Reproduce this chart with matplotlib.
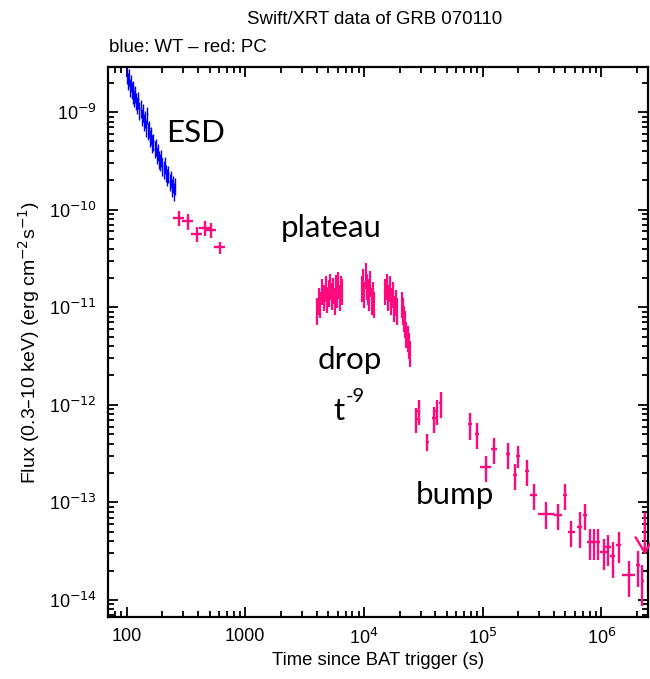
import numpy as np
import matplotlib
matplotlib.use("Agg")
import matplotlib.pyplot as plt
from matplotlib.ticker import NullFormatter, LogLocator

pink = "#ff0a7e"
blue = "#0000ff"

# ---- WT mode (blue)
wt_t = [100, 102, 104, 106, 108, 110, 112, 114, 116, 118, 120, 122, 125, 128, 131,
        134, 137, 140, 143, 146, 149, 152, 155, 158, 161, 164, 168, 172, 176, 180,
        184, 188, 192, 196, 200, 205, 210, 215, 220, 225, 230, 235, 240, 245, 250, 255]
wt_f = [2.4e-9, 2.1e-9, 2.3e-9, 1.8e-9, 2.0e-9, 1.7e-9, 1.5e-9, 1.75e-9, 1.4e-9, 1.55e-9,
        1.3e-9, 1.2e-9, 1.35e-9, 1.05e-9, 1.1e-9, 9.0e-10, 1.0e-9, 8.0e-10, 8.5e-10, 7.0e-10,
        9.5e-10, 6.5e-10, 6.8e-10, 5.5e-10, 5.8e-10, 4.8e-10, 5.0e-10, 4.2e-10, 4.4e-10, 3.7e-10,
        3.9e-10, 3.3e-10, 3.1e-10, 3.4e-10, 2.8e-10, 2.6e-10, 2.9e-10, 2.4e-10, 2.2e-10, 2.35e-10,
        1.95e-10, 2.1e-10, 1.7e-10, 1.85e-10, 1.55e-10, 1.75e-10]
wt_ferr = 0.2   # relative flux error
wt_terr = 0.01  # relative half bin

# ---- PC mode (pink), early
pc1_t = [276, 328, 391, 457, 513, 611]
pc1_f = [8.3e-11, 7.6e-11, 5.7e-11, 6.5e-11, 6.2e-11, 4.1e-11]
pc1_ferr = [0.18, 0.18, 0.18, 0.18, 0.18, 0.14]
pc1_terr = [0.11, 0.11, 0.11, 0.11, 0.11, 0.11]

# ---- plateau + drop
pl_t = [4000, 4150, 4300, 4450, 4600, 4750, 4900, 5050, 5200, 5350, 5500, 5650, 5800,
        5950, 6100, 6250, 6400, 6550,
        9600, 9850, 10100, 10350, 10600, 10850, 11100, 11350, 11600, 11850, 12100,
        15000, 15500, 16000, 16500, 17000, 17500, 18000, 18500, 19000,
        20800, 21300, 21800, 22300, 22800, 23300, 23800, 24300]
pl_f = [0.95e-11, 1.2e-11, 1.1e-11, 1.5e-11, 1.3e-11, 1.6e-11, 1.25e-11, 1.45e-11, 1.7e-11,
        1.35e-11, 1.55e-11, 1.2e-11, 1.65e-11, 1.4e-11, 1.75e-11, 1.3e-11, 1.6e-11, 1.5e-11,
        1.6e-11, 1.9e-11, 1.4e-11, 2.2e-11, 1.7e-11, 1.5e-11, 1.3e-11, 1.8e-11, 1.2e-11,
        1.4e-11, 1.1e-11,
        1.5e-11, 1.7e-11, 1.3e-11, 1.6e-11, 1.2e-11, 1.4e-11, 1.0e-11, 1.15e-11, 0.95e-11,
        1.1e-11, 0.95e-11, 0.8e-11, 0.7e-11, 0.55e-11, 0.5e-11, 0.42e-11, 0.35e-11]
pl_ferr = 0.3
pl_terr = 0.012

# ---- late PC points (bump and decay)
late_t = [27700, 29000, 34300, 39000, 40900, 44500, 78000, 89900, 106500, 125000,
          165300, 186700, 200600, 238800, 269800, 345000, 435500, 492000, 560500, 659000,
          730500, 800000, 869500, 939000, 1.056e6, 1.141e6, 1.256e6, 1.405e6, 1.715e6,
          2.04e6, 2.22e6]
late_f = [7.2e-13, 8.7e-13, 4.2e-13, 7.3e-13, 8.7e-13, 1.05e-12, 6.3e-13, 5.0e-13, 2.3e-13,
          3.56e-13, 3.16e-13, 1.9e-13, 3.0e-13, 2.1e-13, 1.19e-13, 7.7e-14, 7.4e-14, 1.19e-13,
          5.0e-14, 5.65e-14, 7.4e-14, 3.97e-14, 3.97e-14, 3.97e-14, 3.14e-14, 3.47e-14, 2.8e-14,
          3.66e-14, 1.79e-14, 2.26e-14, 1.57e-14]
late_ferr = [0.28, 0.28, 0.2, 0.3, 0.28, 0.3, 0.3, 0.3, 0.3, 0.3, 0.3, 0.3, 0.25, 0.3, 0.3,
             0.3, 0.3, 0.3, 0.3, 0.4, 0.3, 0.35, 0.35, 0.35, 0.35, 0.35, 0.4, 0.35, 0.4,
             0.4, 0.45]
late_terr = [0.03, 0.03, 0.03, 0.03, 0.03, 0.03, 0.04, 0.04, 0.1, 0.06, 0.04, 0.04, 0.04,
             0.04, 0.07, 0.15, 0.08, 0.04, 0.07, 0.05, 0.04, 0.06, 0.04, 0.04, 0.07, 0.05,
             0.05, 0.05, 0.12, 0.04, 0.03]

# upper limit
ul_t = 2.33e6
ul_f = 7.7e-14
ul_tip = 2.9e-14


def err(vals, rel):
    vals = np.asarray(vals, float)
    rel = np.asarray(rel, float)
    return vals * rel


fig = plt.figure(figsize=(6.5, 6.79), dpi=100)
ax = fig.add_axes([108/650, 1-617/679, 540/650, 550/679])

ax.errorbar(wt_t, wt_f, yerr=err(wt_f, wt_ferr), xerr=err(wt_t, wt_terr),
            fmt="none", ecolor=blue, elinewidth=1.0, capsize=0)
ax.errorbar(pc1_t, pc1_f, yerr=err(pc1_f, pc1_ferr), xerr=err(pc1_t, pc1_terr),
            fmt="none", ecolor=pink, elinewidth=1.7, capsize=0)
ax.errorbar(pl_t, pl_f, yerr=err(pl_f, pl_ferr), xerr=err(pl_t, pl_terr),
            fmt="none", ecolor=pink, elinewidth=1.6, capsize=0)
ax.errorbar(late_t, late_f, yerr=err(late_f, late_ferr), xerr=err(late_t, late_terr),
            fmt="none", ecolor=pink, elinewidth=1.7, capsize=0)
ax.annotate("", xy=(ul_t, ul_tip), xytext=(ul_t, ul_f),
            arrowprops=dict(arrowstyle="->,head_length=0.5,head_width=0.3",
                            color=pink, lw=1.7, mutation_scale=22,
                            shrinkA=0, shrinkB=0))

ax.set_xscale("log")
ax.set_yscale("log")
ax.set_xlim(69.6, 2.48e6)
ax.set_ylim(6.7e-15, 2.9e-9)

tf = ["Liberation Sans", "DejaVu Sans"]
ax.set_xticks([100, 1000, 1e4, 1e5, 1e6])
ax.set_xticklabels(["100", "1000", "10$^{4}$", "10$^{5}$", "10$^{6}$"])
ax.xaxis.set_minor_locator(LogLocator(base=10, subs=np.arange(2, 10)))
ax.xaxis.set_minor_formatter(NullFormatter())
ax.set_yticks([1e-14, 1e-13, 1e-12, 1e-11, 1e-10, 1e-9])
ax.set_yticklabels(["10$^{-14}$", "10$^{-13}$", "10$^{-12}$", "10$^{-11}$",
                    "10$^{-10}$", "10$^{-9}$"])
ax.yaxis.set_minor_locator(LogLocator(base=10, subs=np.arange(2, 10)))
ax.yaxis.set_minor_formatter(NullFormatter())
ax.tick_params(which="both", direction="in", top=True, right=True, width=1.3)
ax.tick_params(which="major", length=7, labelsize=13, pad=8)
ax.tick_params(which="minor", length=4)
for lab in ax.get_xticklabels() + ax.get_yticklabels():
    lab.set_family(tf)
for s in ax.spines.values():
    s.set_linewidth(1.6)

ax.set_xlabel("Time since BAT trigger (s)", fontsize=13.3, family=tf, labelpad=3)
ax.set_ylabel("Flux (0.3\u201310 keV) (erg cm$^{-2}$s$^{-1}$)", fontsize=14, family=tf, labelpad=5)

fig.text(375/650, 1-19/679, "Swift/XRT data of GRB 070110", ha="center", va="center",
         fontsize=13.4, family=tf)
fig.text(109/650, 1-47/679, "blue: WT \u2013 red: PC", ha="left", va="center",
         fontsize=13.4, family=tf)

lf = ["Lato", "DejaVu Sans"]
ax.text(0.163, 0.88, "ESD", transform=ax.transAxes, ha="center", va="center", fontsize=22.5, family=lf)
ax.text(0.413, 0.707, "plateau", transform=ax.transAxes, ha="center", va="center", fontsize=22.5, family=lf)
ax.text(0.448, 0.467, "drop", transform=ax.transAxes, ha="center", va="center", fontsize=22.5, family=lf)
ax.text(0.428, 0.374, "t", transform=ax.transAxes, ha="center", va="center", fontsize=22.5, family=lf)
ax.text(0.440, 0.40, "-9", transform=ax.transAxes, ha="left", va="center", fontsize=14.5, family=lf)
ax.text(0.643, 0.222, "bump", transform=ax.transAxes, ha="center", va="center", fontsize=22.5, family=lf)

fig.savefig("out.png", dpi=100)
